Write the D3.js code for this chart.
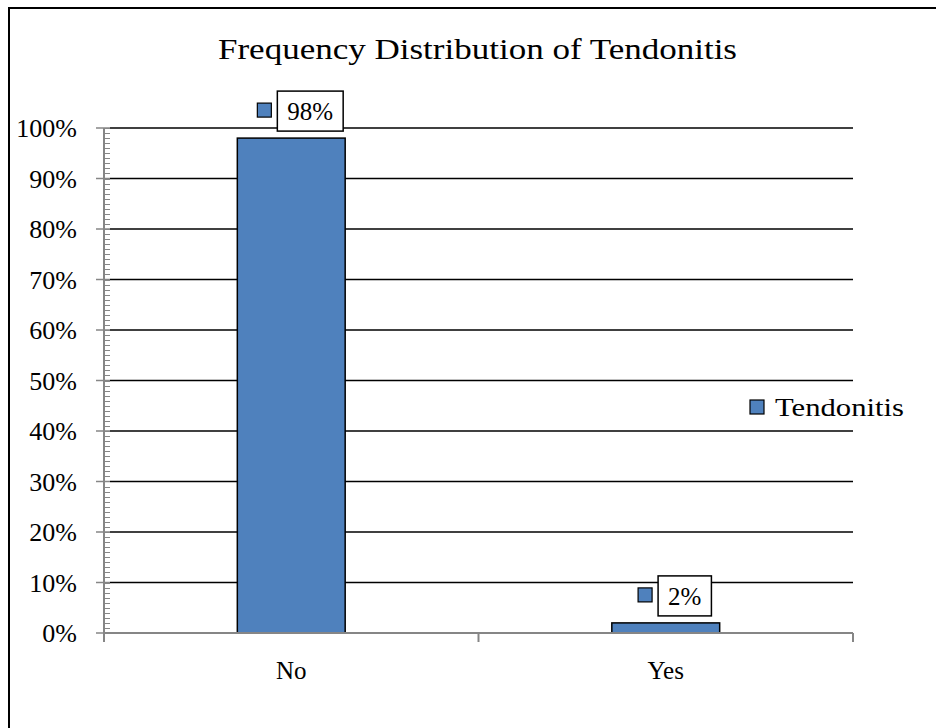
<!DOCTYPE html>
<html>
<head>
<meta charset="utf-8">
<script src="https://cdn.jsdelivr.net/npm/d3@7"></script>
<style>
  html, body { margin: 0; padding: 0; background: #fff; }
  svg { display: block; }
</style>
</head>
<body>
<svg id="chart" width="936" height="728"></svg>
<script>
const title = "Frequency Distribution of Tendonitis";
const categories = ["No", "Yes"];
const seriesName = "Tendonitis";
const values = [0.98, 0.02];
const dataLabels = ["98%", "2%"];
const yTickValues = [0, 0.1, 0.2, 0.3, 0.4, 0.5, 0.6, 0.7, 0.8, 0.9, 1.0];
const yTickLabels = ["0%", "10%", "20%", "30%", "40%", "50%", "60%", "70%", "80%", "90%", "100%"];

const FONT = "Liberation Serif, DejaVu Serif, serif";
const svg = d3.select("#chart").attr("font-family", FONT);
const plot = { left: 104, right: 853, top: 128, bottom: 633 };
const barColor = "#4f81bd";
const axisColor = "#868686";

svg.append("rect")
  .attr("x", 9).attr("y", 8).attr("width", 960).attr("height", 760)
  .attr("fill", "#fff").attr("stroke", "#000").attr("stroke-width", 2);

const x = d3.scaleBand().domain(categories).range([plot.left, plot.right]).padding(0);
const y = d3.scaleLinear().domain([0, 1]).range([plot.bottom, plot.top]);

svg.append("g").selectAll("line")
  .data(yTickValues.filter(v => v > 0))
  .join("line")
  .attr("x1", plot.left + 6).attr("x2", plot.right)
  .attr("y1", d => y(d)).attr("y2", d => y(d))
  .attr("stroke", "#000").attr("stroke-width", 1.5);

const barW = x.bandwidth() * 0.288;
svg.append("g").selectAll("rect")
  .data(values)
  .join("rect")
  .attr("x", (d, i) => x(categories[i]) + x.bandwidth() / 2 - barW / 2)
  .attr("y", d => y(d))
  .attr("width", barW)
  .attr("height", d => y(0) - y(d))
  .attr("fill", barColor)
  .attr("stroke", "#000").attr("stroke-width", 1.5);

const gy = svg.append("g");
gy.selectAll("line.minor")
  .data(y.ticks(100))
  .join("line").attr("class", "minor")
  .attr("x1", plot.left).attr("x2", plot.left + 6)
  .attr("y1", d => Math.round(y(d)) + 0.5).attr("y2", d => Math.round(y(d)) + 0.5)
  .attr("stroke", axisColor).attr("stroke-width", 1);
gy.selectAll("line.major")
  .data(yTickValues)
  .join("line").attr("class", "major")
  .attr("x1", plot.left - 8).attr("x2", plot.left + 6)
  .attr("y1", d => y(d)).attr("y2", d => y(d))
  .attr("stroke", axisColor).attr("stroke-width", 1.5);
gy.append("line")
  .attr("x1", plot.left).attr("x2", plot.left)
  .attr("y1", y(1)).attr("y2", y(0))
  .attr("stroke", axisColor).attr("stroke-width", 2);
gy.selectAll("text")
  .data(yTickValues)
  .join("text")
  .attr("font-family", FONT)
  .attr("x", 77).attr("y", d => y(d) + 9)
  .attr("text-anchor", "end")
  .attr("font-size", 26)
  .text((d, i) => yTickLabels[i]);

const gx = svg.append("g");
gx.append("line")
  .attr("x1", plot.left).attr("x2", plot.right)
  .attr("y1", y(0)).attr("y2", y(0))
  .attr("stroke", axisColor).attr("stroke-width", 2);
const bounds = categories.map(c => x(c)).concat([plot.right]);
gx.selectAll("line.tick")
  .data(bounds)
  .join("line").attr("class", "tick")
  .attr("x1", d => d).attr("x2", d => d)
  .attr("y1", y(0)).attr("y2", y(0) + 9)
  .attr("stroke", axisColor).attr("stroke-width", 2);
gx.selectAll("text")
  .data(categories)
  .join("text")
  .attr("font-family", FONT)
  .attr("x", d => x(d) + x.bandwidth() / 2)
  .attr("y", 679)
  .attr("text-anchor", "middle")
  .attr("font-size", 25)
  .text(d => d);

const lbl = svg.append("g");
values.forEach((v, i) => {
  const cx = x(categories[i]) + x.bandwidth() / 2 + 9;
  const g = lbl.append("g");
  const t = g.append("text").attr("font-family", FONT).attr("font-size", 25).text(dataLabels[i]);
  const tw = t.node().getComputedTextLength();
  const boxW = tw + 20, boxH = 40, keyS = 14, gap = 6;
  const total = keyS + gap + boxW;
  const left = cx - total / 2;
  const boxBottom = y(v) - 7;
  const boxTop = boxBottom - boxH;
  g.insert("rect", "text")
    .attr("x", left + keyS + gap).attr("y", boxTop)
    .attr("width", boxW).attr("height", boxH)
    .attr("fill", "#fff").attr("stroke", "#000").attr("stroke-width", 1.5);
  g.append("rect")
    .attr("x", left).attr("y", boxTop + boxH / 2 - keyS / 2 - 1)
    .attr("width", keyS).attr("height", keyS)
    .attr("fill", barColor).attr("stroke", "#000").attr("stroke-width", 1.2);
  t.attr("x", left + keyS + gap + boxW / 2).attr("y", boxTop + 29)
    .attr("text-anchor", "middle");
});

const lg = svg.append("g");
lg.append("rect")
  .attr("x", 750).attr("y", 400).attr("width", 14).attr("height", 14)
  .attr("fill", barColor).attr("stroke", "#000").attr("stroke-width", 1.2);
lg.append("text")
  .attr("font-family", FONT)
  .attr("x", 775).attr("y", 416)
  .attr("font-size", 26)
  .attr("textLength", 129).attr("lengthAdjust", "spacingAndGlyphs")
  .text(seriesName);

svg.append("text")
  .attr("font-family", FONT)
  .attr("x", 477.5).attr("y", 59)
  .attr("text-anchor", "middle")
  .attr("font-size", 30)
  .attr("textLength", 519).attr("lengthAdjust", "spacingAndGlyphs")
  .text(title);
</script>
</body>
</html>
